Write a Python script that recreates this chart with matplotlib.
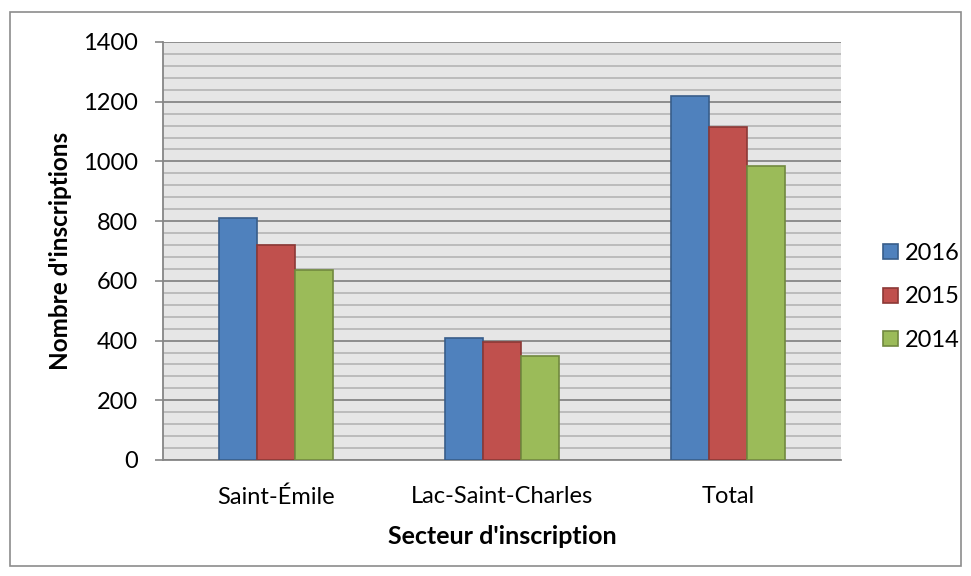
import matplotlib.pyplot as plt
import numpy as np
from matplotlib.patches import Rectangle

# données
secteurs = ["Saint-Émile", "Lac-Saint-Charles", "Total"]
annees = ["2016", "2015", "2014"]
val_2016 = [810, 408, 1219]
val_2015 = [721, 394, 1115]
val_2014 = [636, 350, 985]

couleurs = ["#4F81BD", "#C0504D", "#9BBB59"]
bords = ["#385D8A", "#8C3836", "#71893F"]

plt.rcParams['font.family'] = ['Lato', 'DejaVu Sans']

fig = plt.figure(figsize=(9.71, 5.76), dpi=100)
# cadre gris autour du graphique
fig.patches.append(Rectangle((10 / 971, 10 / 576), 951 / 971, 554 / 576,
                             transform=fig.transFigure, fill=False,
                             edgecolor="#8c8c8c", linewidth=1.2))

ax = fig.add_axes([163 / 971, 1 - 460 / 576, 678 / 971, 418 / 576])
ax.set_facecolor("#E6E6E6")

x = np.arange(len(secteurs))
largeur = 0.168
series = [val_2016, val_2015, val_2014]
for i, vals in enumerate(series):
    ax.bar(x + (i - 1) * largeur, vals, width=largeur, color=couleurs[i],
           edgecolor=bords[i], linewidth=1.2, label=annees[i], zorder=3)

ax.set_xlim(-0.5, 2.5)
ax.set_ylim(0, 1400)
ax.set_yticks(range(0, 1401, 200))
ax.set_yticks(range(0, 1401, 40), minor=True)
ax.grid(which="minor", axis="y", color="#B4B4B4", linewidth=1.2, zorder=1)
ax.grid(which="major", axis="y", color="#868686", linewidth=1.3, zorder=2)

ax.set_xticks(x)
ax.set_xticklabels(secteurs, fontsize=17)
ax.tick_params(axis="x", length=0, pad=19)
ax.tick_params(axis="y", which="major", length=6, width=1.2, color="#868686",
               labelsize=17, pad=12)
ax.tick_params(axis="y", which="minor", length=0)

for s in ["top", "right"]:
    ax.spines[s].set_visible(False)
for s in ["left", "bottom"]:
    ax.spines[s].set_color("#868686")
    ax.spines[s].set_linewidth(1.3)

ax.set_ylabel("Nombre d'inscriptions", fontsize=17.5, fontweight="bold", labelpad=8)
ax.set_xlabel("Secteur d'inscription", fontsize=18, fontweight="bold", labelpad=12)

ax.legend(loc="center left", bbox_to_anchor=(1.062, 0.39), frameon=False,
          borderpad=0, borderaxespad=0,
          fontsize=17, handlelength=0.62, handleheight=0.62, handletextpad=0.3,
          labelspacing=0.95)

fig.savefig("out.png", dpi=100)
